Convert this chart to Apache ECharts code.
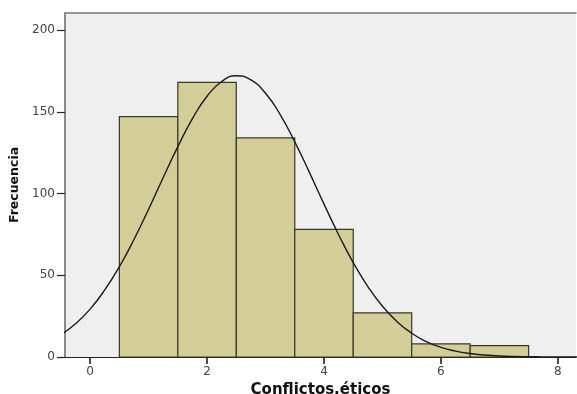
<!DOCTYPE html>
<html>
<head>
<meta charset="utf-8">
<script src="https://cdn.jsdelivr.net/npm/echarts@6/dist/echarts.min.js"></script>
<style>
  html, body { margin: 0; padding: 0; background: #fff; }
  #main { width: 577px; height: 394px; }
</style>
</head>
<body>
<div id="main"></div>
<script>
// histogram bins
var binStart = [0.5, 1.5, 2.5, 3.5, 4.5, 5.5, 6.5];
var binEnd = [1.5, 2.5, 3.5, 4.5, 5.5, 6.5, 7.5];
var frequency = [147, 168, 134, 78, 27, 8, 7];

// normal curve
var curveX = [-0.5, -0.25, 0, 0.25, 0.5, 0.75, 1, 1.25, 1.5, 1.75, 2, 2.25, 2.5, 2.75, 3, 3.25, 3.5, 3.75,
  4, 4.25, 4.5, 4.75, 5, 5.25, 5.5, 5.75, 6, 6.25, 6.5, 6.75, 7, 7.25, 7.5, 7.75, 8, 8.25, 8.5];
var curveY = [13.6, 20.3, 29.3, 41.0, 55.2, 71.9, 90.4, 109.8, 128.7, 145.8, 159.5, 168.5, 172.0, 169.5,
  161.3, 148.3, 131.6, 112.9, 93.5, 74.8, 57.7, 43.1, 31.0, 21.6, 14.5, 9.4, 5.9, 3.6, 2.1, 1.2, 0.6,
  0.3, 0.2, 0.1, 0.05, 0.02, 0.01];

var xTicks = [0, 2, 4, 6, 8];
var yTicks = [0, 50, 100, 150, 200];

var bars = binStart.map(function (s, i) { return [s, binEnd[i], frequency[i]]; });
var curve = curveX.map(function (x, i) { return [x, curveY[i]]; });

var labelFont = { fontFamily: 'DejaVu Sans', fontSize: 12, color: '#444' };

var chart = echarts.init(document.getElementById('main'));
chart.setOption({
  animation: false,
  grid: {
    left: 65, top: 13, right: 1, bottom: 37,
    outerBoundsMode: 'none',
    show: true, backgroundColor: '#efefef', borderWidth: 0
  },
  xAxis: [{
    type: 'value',
    min: -0.43, max: 8.31,
    name: 'Conflictos.éticos',
    nameLocation: 'middle',
    nameGap: 24,
    nameTextStyle: { fontFamily: 'DejaVu Sans', fontWeight: 'bold', fontSize: 15, color: '#111' },
    axisLine: { show: true, onZero: false, lineStyle: { color: '#222', width: 1 } },
    axisTick: { show: true, customValues: xTicks, length: 7, lineStyle: { color: '#111', width: 1.5 } },
    axisLabel: Object.assign({ customValues: xTicks, margin: 9 }, labelFont),
    splitLine: { show: false }
  }, {
    type: 'value',
    position: 'top',
    min: -0.43, max: 8.31,
    axisLine: { show: true, onZero: false, lineStyle: { color: '#777', width: 1.5 } },
    axisTick: { show: false },
    axisLabel: { show: false },
    splitLine: { show: false }
  }],
  yAxis: {
    type: 'value',
    min: 0, max: 210.4,
    name: 'Frecuencia',
    nameLocation: 'middle',
    nameGap: 36,
    nameTextStyle: { fontFamily: 'DejaVu Sans', fontWeight: 'bold', fontSize: 12.5, color: '#111' },
    axisLine: { show: true, onZero: false, lineStyle: { color: '#666', width: 1.5 } },
    axisTick: { show: true, customValues: yTicks, length: 8, lineStyle: { color: '#222', width: 1.2 } },
    axisLabel: Object.assign({ customValues: yTicks, margin: 10 }, labelFont),
    splitLine: { show: false }
  },
  series: [{
    type: 'custom',
    data: bars,
    encode: { x: [0, 1], y: 2 },
    renderItem: function (params, api) {
      var topLeft = api.coord([api.value(0), api.value(2)]);
      var bottomRight = api.coord([api.value(1), 0]);
      return {
        type: 'rect',
        shape: {
          x: topLeft[0], y: topLeft[1],
          width: bottomRight[0] - topLeft[0],
          height: bottomRight[1] - topLeft[1]
        },
        style: { fill: '#d3ce98', stroke: '#3a3926', lineWidth: 1.2 }
      };
    }
  }, {
    type: 'line',
    data: curve,
    smooth: true,
    showSymbol: false,
    clip: true,
    lineStyle: { color: '#1a1a1a', width: 1.4 },
    z: 5
  }]
});
</script>
</body>
</html>
